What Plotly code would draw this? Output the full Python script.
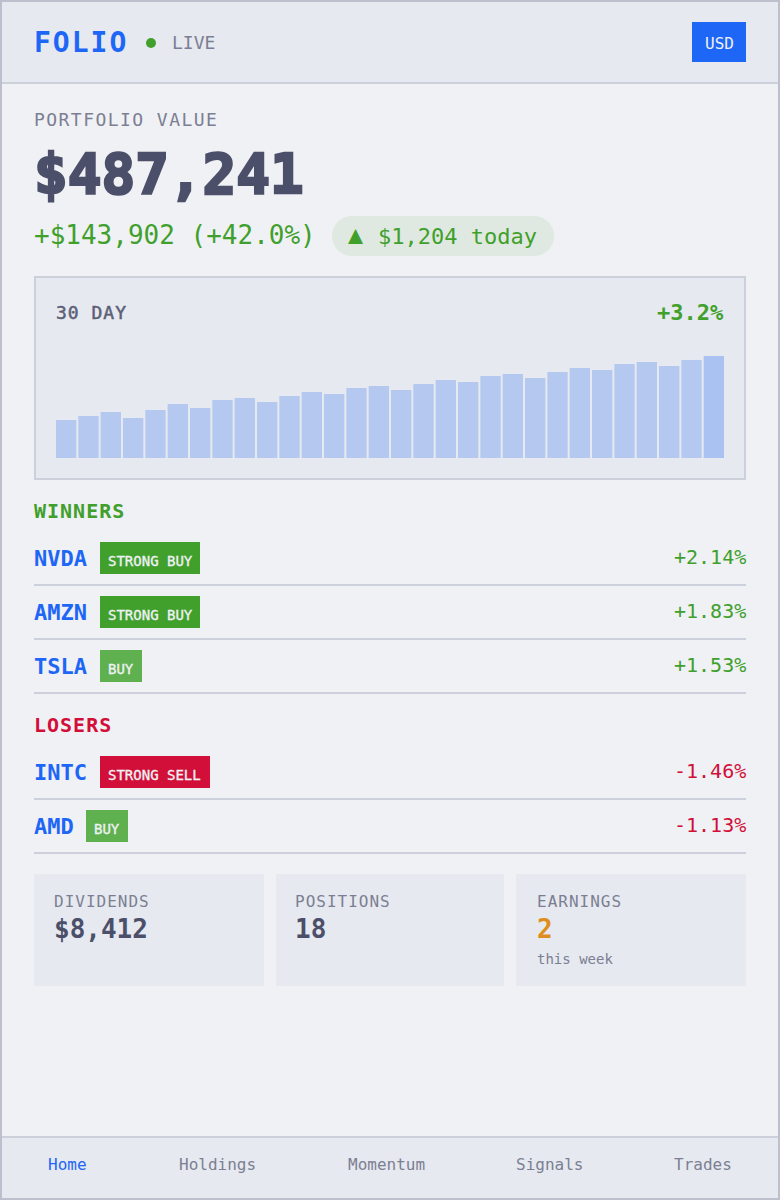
import plotly.graph_objects as go

W, H = 780, 1200
FONT = "DejaVu Sans Mono"

BASE = "#eff1f5"
MANTLE = "#e6e9ef"
SURFACE = "#ccd0da"
EDGE = "#bcc0cc"
TEXT = "#4c4f69"
SUBTEXT = "#5c5f77"
MUTED = "#7c7f93"
BLUE = "#1e66f5"
GREEN = "#40a02b"
RED = "#d20f39"
YELLOW = "#df8e1d"

# 30 day bars
DAYS = list(range(1, 31))
DAY_VALUES = [38, 42, 46, 40, 48, 54, 50, 58, 60, 56, 62, 66, 64, 70, 72,
              68, 74, 78, 76, 82, 84, 80, 86, 90, 88, 94, 96, 92, 98, 102]
DAY_COLORS = ["#b4c8f0"] * 29 + ["#aac2f1"]

WINNERS = ["NVDA", "AMZN", "TSLA"]
WINNER_SIGNALS = ["STRONG BUY", "STRONG BUY", "BUY"]
WINNER_MOVES = ["+2.14%", "+1.83%", "+1.53%"]
LOSERS = ["INTC", "AMD"]
LOSER_SIGNALS = ["STRONG SELL", "BUY"]
LOSER_MOVES = ["-1.46%", "-1.13%"]

CARD_LABELS = ["DIVIDENDS", "POSITIONS", "EARNINGS"]
CARD_VALUES = ["$8,412", "18", "2"]
NAV_ITEMS = ["Home", "Holdings", "Momentum", "Signals", "Trades"]
NAV_X = [48, 179, 348, 516, 674]

BADGE_STYLE = {
    "STRONG BUY": (GREEN, 100),
    "STRONG SELL": (RED, 110),
    "BUY": ("#5fb04e", 42),
}


def px(x):
    return x / W


def py(y):
    return 1 - y / H


def rect(x0, y0, x1, y1, fill, line=None, width=0):
    return dict(
        type="rect", xref="paper", yref="paper", layer="below",
        x0=px(x0), x1=px(x1), y0=py(y0), y1=py(y1),
        fillcolor=fill, line=dict(color=line, width=width) if line else dict(width=0),
    )


def label(x, y, text, size, color, anchor="left", bold=False, spacing=0, stroke=0):
    style = ""
    if spacing:
        style += f"letter-spacing:{spacing}px;"
    if stroke:
        style += f"stroke:{color};stroke-width:{stroke}px;"
    if style:
        text = f'<span style="{style}">{text}</span>'
    return dict(
        x=px(x), y=py(y), xref="paper", yref="paper", text=text, showarrow=False,
        xanchor=anchor, yanchor="middle", borderpad=0, borderwidth=0,
        font=dict(family=FONT, size=size, color=color, weight=700 if bold else 400),
    )


shapes = [
    rect(2, 2, 778, 82, MANTLE),
    rect(2, 82, 778, 84, SURFACE),
    dict(type="circle", xref="paper", yref="paper", layer="below",
         x0=px(146), x1=px(156), y0=py(48), y1=py(38), fillcolor=GREEN, line=dict(width=0)),
    rect(692, 22, 746, 62, BLUE),
    # pill behind the daily change
    dict(type="path", xref="paper", yref="paper", layer="below", fillcolor="#dfe9e1", line=dict(width=0),
         path=(f"M {px(352)} {py(216)} L {px(534)} {py(216)} "
               f"C {px(545)} {py(216)} {px(554)} {py(225)} {px(554)} {py(236)} "
               f"C {px(554)} {py(247)} {px(545)} {py(256)} {px(534)} {py(256)} "
               f"L {px(352)} {py(256)} "
               f"C {px(341)} {py(256)} {px(332)} {py(247)} {px(332)} {py(236)} "
               f"C {px(332)} {py(225)} {px(341)} {py(216)} {px(352)} {py(216)} Z")),
    rect(35, 277, 745, 479, MANTLE, SURFACE, 2),
    rect(2, 1136, 778, 1138, SURFACE),
    rect(2, 1138, 778, 1198, MANTLE),
    rect(1, 1, 779, 1199, "rgba(0,0,0,0)", EDGE, 2),
]

annotations = [
    label(34, 42, "FOLIO", 28, BLUE, bold=True, spacing=2),
    label(172, 42, "LIVE", 18, MUTED),
    label(705, 44, "USD", 16, BASE),
    label(34, 120, "PORTFOLIO VALUE", 18, MUTED, spacing=1.45),
    label(34, 173, "$487,241", 56, TEXT, bold=True, stroke=2.5),
    label(34, 235, "+$143,902 (+42.0%)", 26, GREEN),
    label(348, 235, "▲", 25, GREEN),
    label(378, 236, "$1,204 today", 22, GREEN),
    label(56, 312, "30 DAY", 18, SUBTEXT, spacing=1, stroke=0.5),
    label(724, 312, "+3.2%", 22, GREEN, anchor="right", bold=True),
    label(34, 511, "WINNERS", 20, GREEN, bold=True, spacing=1),
    label(34, 725, "LOSERS", 20, RED, bold=True, spacing=1),
]


def add_rows(tickers, signals, moves, first_top, move_color):
    for i, (ticker, signal, move) in enumerate(zip(tickers, signals, moves)):
        top = first_top + 54 * i
        left = int(34 + len(ticker) * 13.25 + 13)
        fill, width = BADGE_STYLE[signal]
        shapes.append(rect(left, top, left + width, top + 32, fill))
        shapes.append(rect(34, top + 42, 746, top + 44, SURFACE))
        annotations.append(label(34, top + 16, ticker, 22, BLUE, bold=True))
        annotations.append(label(left + 8, top + 19, signal, 14, BASE, stroke=0.35))
        annotations.append(label(746, top + 15, move, 20, move_color, anchor="right"))


add_rows(WINNERS, WINNER_SIGNALS, WINNER_MOVES, 542, GREEN)
add_rows(LOSERS, LOSER_SIGNALS, LOSER_MOVES, 756, RED)

card_x = [(34, 264), (276, 504), (516, 746)]
card_text_x = [54, 295, 537]
for (x0, x1), tx, name, value in zip(card_x, card_text_x, CARD_LABELS, CARD_VALUES):
    shapes.append(rect(x0, 874, x1, 986, MANTLE))
    annotations.append(label(tx, 901, name, 16, MUTED, spacing=1))
    annotations.append(label(tx, 929, value, 26, YELLOW if name == "EARNINGS" else TEXT, bold=True))
annotations.append(label(537, 959, "this week", 14, MUTED))

for x, item in zip(NAV_X, NAV_ITEMS):
    annotations.append(label(x, 1164, item, 16, BLUE if item == "Home" else MUTED))

fig = go.Figure(go.Bar(x=DAYS, y=DAY_VALUES, marker=dict(color=DAY_COLORS, line=dict(width=0)), hoverinfo="skip"))

fig.update_layout(
    width=W, height=H,
    margin=dict(l=0, r=0, t=0, b=0),
    paper_bgcolor=BASE, plot_bgcolor="rgba(0,0,0,0)",
    showlegend=False, bargap=0.0896,
    shapes=shapes, annotations=annotations,
    font=dict(family=FONT),
)
# range trimmed so the outer bar edges sit on the panel padding
fig.update_xaxes(domain=[px(56), px(724)], range=[0.545, 30.455], visible=False, fixedrange=True)
fig.update_yaxes(domain=[py(458), py(338)], range=[0, 120], visible=False, fixedrange=True)

# the page's default body margin would push the figure 8px off the window
fig.write_html(
    "out.html",
    config=dict(displayModeBar=False),
    post_script="document.body.style.margin='0';document.body.style.overflow='hidden';",
)
